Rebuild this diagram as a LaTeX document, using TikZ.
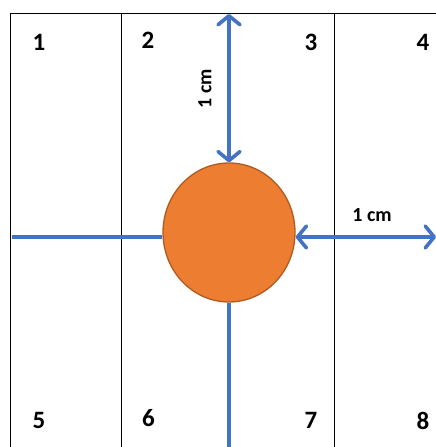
\documentclass[tikz,border=0pt]{standalone}
\usepackage{fontspec}
\setmainfont{Carlito}
\usetikzlibrary{arrows.meta,shapes.geometric}
\definecolor{ablue}{HTML}{4472C4}
\definecolor{aorange}{HTML}{ED7D31}
\definecolor{aborder}{HTML}{AE5A21}
\begin{document}
\begin{tikzpicture}[x=1pt,y=-1pt,
  grid/.style={draw=black,line width=1pt},
  bline/.style={draw=ablue,line width=3.6pt},
  barb/.style={bline,{Straight Barb[length=9pt,width=22pt,line width=3.6pt,round]}-{Straight Barb[length=9pt,width=22pt,line width=3.6pt,round]}},
  num/.style={font=\fontsize{25}{27}\selectfont\bfseries,inner sep=0pt},
  lbl/.style={font=\fontsize{20}{22}\selectfont\bfseries,inner sep=0pt}]
\useasboundingbox (0,0) rectangle (436,447);
% grid
\coordinate (tl) at (10,13);
\coordinate (tr) at (436,13);
\coordinate (bl) at (10,447);
\coordinate (t2) at (121,13);
\coordinate (b2) at (121,447);
\coordinate (t3) at (334,13);
\coordinate (b3) at (334,447);
\draw[grid] (bl) -- (tl) -- (tr);
\draw[grid] (t2) -- (b2);
\draw[grid] (t3) -- (b3);
% circle
\node[ellipse,draw=aborder,line width=1.3pt,fill=aorange,minimum width=132pt,minimum height=139pt,inner sep=0pt] (c) at (229,232.5) {};
% connectors
\coordinate (top) at (229,14);
\coordinate (lft) at (12,237);
\coordinate (rgt) at (436,237);
\coordinate (bot) at (229,447);
\draw[barb] (top) -- (c.north);
\draw[bline] (lft) -- (lft -| c.west);
\draw[barb] (rgt -| c.east) -- (rgt);
\draw[bline] (c.south) -- (bot);
% labels
\node[lbl,rotate=90] (l1) at (205,89) {1 cm};
\node[lbl] (l2) at (372,215) {1 cm};
\node[num] (n1) at (39,42) {1};
\node[num] (n2) at (148,40) {2};
\node[num] (n3) at (311,42.5) {3};
\node[num] (n4) at (423,42) {4};
\node[num] (n5) at (39,420.5) {5};
\node[num] (n6) at (148.5,418.5) {6};
\node[num] (n7) at (311,420.5) {7};
\node[num] (n8) at (423,420.5) {8};
\end{tikzpicture}
\end{document}
